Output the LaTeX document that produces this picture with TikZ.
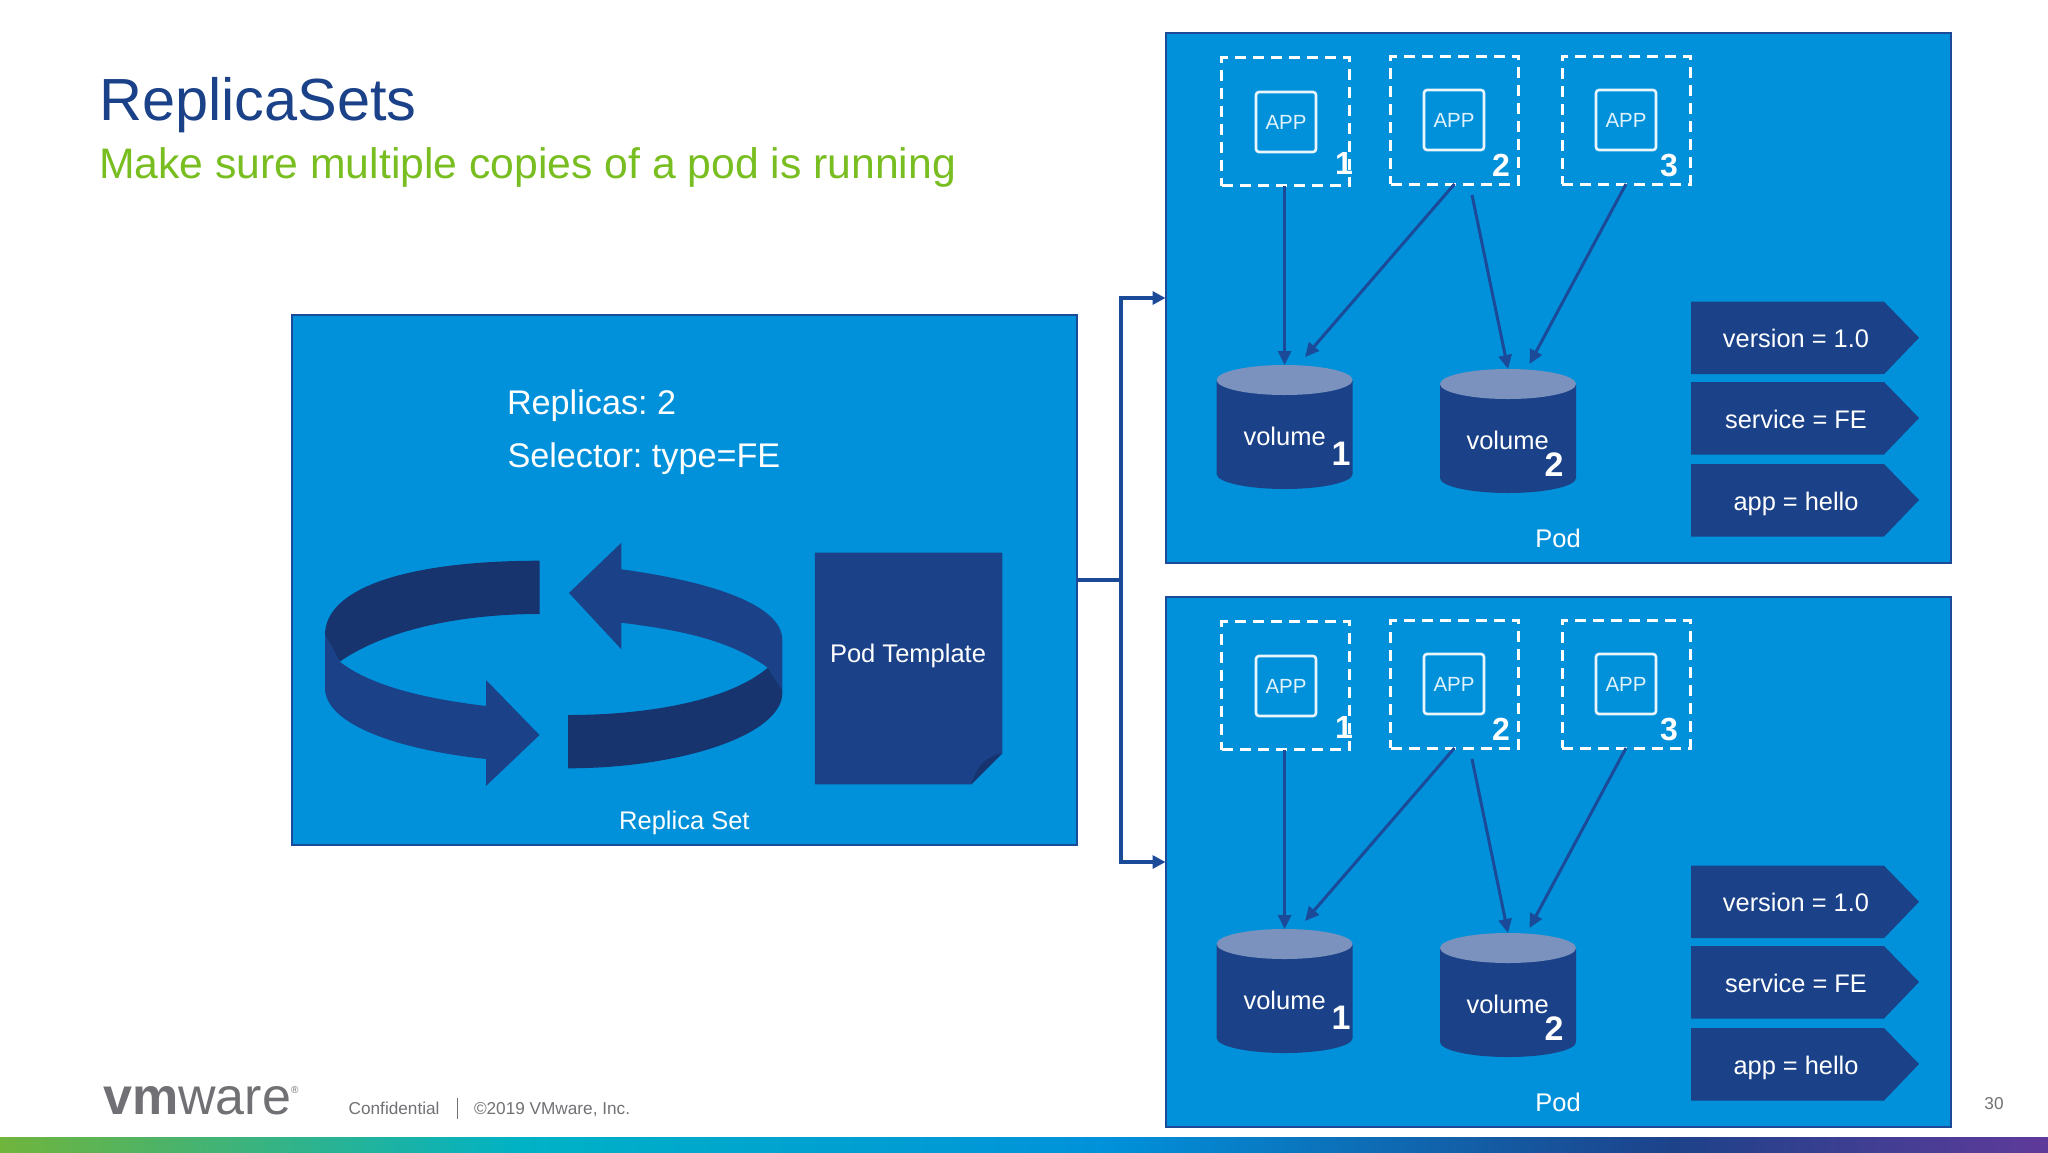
\documentclass[tikz,border=0pt]{standalone}
\usepackage{fontspec}
\setmainfont{Liberation Sans}
\usetikzlibrary{arrows.meta}

\definecolor{skyblue}{HTML}{0091DA}
\definecolor{navy}{HTML}{1B4289}
\definecolor{darknavy}{HTML}{17346F}
\definecolor{edgeblue}{HTML}{1B4A99}
\definecolor{capblue}{HTML}{7B92BE}
\definecolor{leaf}{HTML}{78BE20}
\definecolor{footgrey}{HTML}{717074}
\definecolor{stripgreen}{HTML}{70B43C}
\definecolor{stripteal}{HTML}{00B2C6}
\definecolor{stripnavy}{HTML}{1D428A}
\definecolor{strippurple}{HTML}{5F3A9A}

\newcommand{\fsz}[1]{\fontsize{#1}{#1}\selectfont}

\tikzset{
  panel/.style={rectangle,draw=edgeblue,line width=2pt,fill=skyblue,inner sep=0,outer sep=0},
  dashbox/.style={rectangle,draw=white,line width=3pt,dash pattern=on 11pt off 7pt,
    minimum width=128pt,minimum height=128pt,inner sep=0,outer sep=0},
  appbox/.style={rectangle,draw=white!92!skyblue,line width=2.6pt,rounded corners=3pt,
    minimum width=60pt,minimum height=60pt,inner sep=0,outer sep=0,
    text=white!88!skyblue,font=\fsz{20.5}},
  vol/.style={rectangle,minimum width=136pt,minimum height=124pt,inner sep=0,outer sep=0},
  lbl/.style={text=white,anchor=base,inner sep=0,outer sep=0,font=\fsz{25.5}},
  big/.style={lbl,anchor=base west,font=\fsz{34.2}},
  num/.style={lbl,font=\bfseries\fsz{32}},
  foot/.style={text=footgrey,anchor=base west,inner sep=0,outer sep=0,font=\fsz{17.2}},
  link/.style={draw=edgeblue,line width=4pt,-{Triangle[length=13pt,width=13pt]}},
  flow/.style={draw=edgeblue,line width=3pt,-{Triangle[length=14pt,width=13pt]}}
}

\begin{document}
\frenchspacing
\begin{tikzpicture}[x=1pt,y=-1pt]
\useasboundingbox (0,0) rectangle (2048,1152);
\fill[white] (0,0) rectangle (2048,1152);

% heading
\node[anchor=base west,inner sep=0,text=navy,font=\fsz{59.5}] (title) at (99,120) {ReplicaSets};
\node[anchor=base west,inner sep=0,text=leaf,font=\fsz{42.7}] (sub) at (99,178) {Make sure multiple copies of a pod is running};

% replica set panel
\node[panel,minimum width=785pt,minimum height=530pt] (rs) at (684.2,580.4) {};
\node[big] (rep) at (507,414.3) {Replicas: 2};
\node[big] (sel) at (507.5,467.7) {Selector: type=FE};
\node[lbl] (rslabel) at (684.4,829.3) {Replica Set};

% circular arrows
\fill[darknavy] (539.5,560.7) .. controls (410,560.7) and (325,587) .. (325,635)
  -- (339.7,661.7) .. controls (385,630) and (460,614) .. (539.5,614) -- cycle;
\fill[navy] (325,635) -- (325,688) .. controls (325,725) and (400,750) .. (486,759)
  -- (486,786) -- (539.5,735) -- (486,680) -- (486,706)
  .. controls (420,698) and (370,685) .. (339.7,661.7) -- cycle;
\fill[navy] (569,593) -- (621.4,542.7) -- (621.4,569.3)
  .. controls (700,580) and (782.3,602) .. (782.3,640) -- (782.3,690) -- (767.8,667.7)
  .. controls (730,640) and (680,630) .. (621.4,622.7) -- (621.4,649.3) -- cycle;
\fill[darknavy] (568,715) .. controls (650,715) and (730,700) .. (767.8,667.7)
  -- (782.3,690) -- (782.3,693) .. controls (782.3,735) and (680,768.3) .. (568,768.3) -- cycle;

% pod template sheet
\fill[navy] (814.8,552.7) -- (1002.4,552.7) -- (1002.4,753.3) -- (971.4,784.3) -- (814.8,784.3) -- cycle;
\fill[darknavy] (1002.4,753.3) .. controls (985,757) and (977,765) .. (971.4,784.3) -- cycle;
\node[lbl] (tpl) at (908,662.7) {Pod Template};

% the two pods
\foreach \p/\dy in {a/0,b/564}{
\begin{scope}[shift={(0,\dy)},name prefix=\p-]
  \node[panel,minimum width=785pt,minimum height=530pt] (pod) at (1558,298) {};
  \node[lbl] (podlabel) at (1558,547.7) {Pod};

  \node[dashbox] (d1) at (1285.8,121.7) {};
  \node[dashbox] (d2) at (1454.5,120) {};
  \node[dashbox] (d3) at (1626,120) {};
  \node[appbox] (app1) at (1286,122) {APP};
  \node[appbox] (app2) at (1454,120) {APP};
  \node[appbox] (app3) at (1626,120) {APP};
  \node[num] (n1) at (1344,174) {1};
  \node[num] (n2) at (1501,176) {2};
  \node[num] (n3) at (1669,176) {3};

  \node[vol] (v1) at (1284.6,427) {};
  \node[vol] (v2) at (1508,431) {};
  \foreach \c in {v1,v2}{
    \fill[navy] (\c.north west) ++(0,15) -- ++(0,94)
      arc[start angle=180,end angle=360,x radius=68pt,y radius=15pt] -- ++(0,-94) -- cycle;
    \fill[capblue] (\c.north) ++(0,15) ellipse[x radius=68pt,y radius=15pt];
  }
  \node[lbl] (v1text) at (1284.6,445) {volume};
  \node[lbl] (v2text) at (1507.6,449) {volume};
  \node[num,font=\bfseries\fsz{34}] (v1num) at (1341,465) {1};
  \node[num,font=\bfseries\fsz{34}] (v2num) at (1554,476.7) {2};

  \coordinate (s3) at (1472,195);
  \coordinate (t2) at (1305,357);
  \coordinate (t4) at (1529.5,364);
  \draw[flow] (d1.south -| v1.north) -- (v1.north);
  \draw[flow] (d2.south) -- (t2);
  \draw[flow] (s3) -- (v2.north);
  \draw[flow] (d3.south) -- (t4);

  \foreach \k/\yy/\s in {ver/301.7/version = 1.0,svc/382/service = FE,app/464/app = hello}{
    \fill[navy] (1691,\yy) -- (1884,\yy) -- (1919,\yy+36) -- (1884,\yy+72.5) -- (1691,\yy+72.5) -- cycle;
    \node[lbl,font=\fsz{25.4}] (tag\k) at (1796,\yy+46) {\s};
  }
\end{scope}
}

% replica set to pods
\coordinate (bus) at (1121,580.4);
\draw[link,-] (rs.east) -- (bus);
\draw[link] (bus) |- (a-pod.west);
\draw[link] (bus) |- (b-pod.west);

% footer
\node[anchor=base west,inner sep=0,text=footgrey,font=\fsz{52}] (logo) at (103,1114)
  {{\bfseries vm}ware\raisebox{21pt}{\fsz{10}®}};
\node[foot] (conf) at (348.7,1114) {Confidential};
\node[foot] (copy) at (474,1114) {©2019 VMware, Inc.};
\coordinate (sepa) at (457.7,1098);
\coordinate (sepb) at (457.7,1119);
\draw[footgrey,line width=1.2pt] (sepa) -- (sepb);
\node[foot,anchor=base] (page) at (1994,1109.5) {30};

% colour strip
\fill[left color=stripgreen,right color=stripteal] (0,1137) rectangle (522,1152);
\fill[left color=stripteal,right color=skyblue] (522,1137) rectangle (1110,1152);
\fill[left color=skyblue,right color=stripnavy] (1110,1137) rectangle (1672,1152);
\fill[left color=stripnavy,right color=strippurple] (1672,1137) rectangle (2048,1152);
\end{tikzpicture}
\end{document}
